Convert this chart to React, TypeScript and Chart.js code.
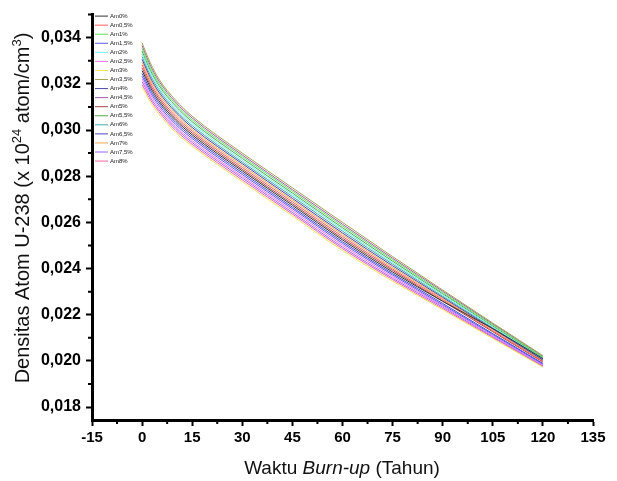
import React, { useEffect, useRef } from 'react';
import { Chart, registerables } from 'chart.js';

Chart.register(...registerables);

const TIMES = [0, 1, 2.5, 5, 10, 15, 30, 45, 60, 75, 90, 105, 120];

const LABELS = ['Am0%', 'Am0,5%', 'Am1%', 'Am1,5%', 'Am2%', 'Am2,5%', 'Am3%', 'Am3,5%', 'Am4%', 'Am4,5%', 'Am5%', 'Am5,5%', 'Am6%', 'Am6,5%', 'Am7%', 'Am7,5%', 'Am8%'];

const COLORS = ['#333333', '#ff5a5a', '#5ee05e', '#5a5aff', '#70eeee', '#f070f0', '#f2e25a', '#a3a356', '#4848a8', '#a858a8', '#a84848', '#50a850', '#48a8a8', '#4848c8', '#f5a550', '#a464f5', '#f564a8'];

const AM0 = [0.03257, 0.03228, 0.03184, 0.03127, 0.03043, 0.02979, 0.02823, 0.02674, 0.02524, 0.02385, 0.02258, 0.02140, 0.02010];
const AM0_5 = [0.03282, 0.03250, 0.03205, 0.03146, 0.03060, 0.02995, 0.02838, 0.02689, 0.02539, 0.02398, 0.02265, 0.02130, 0.01998];
const AM1 = [0.03354, 0.03318, 0.03269, 0.03203, 0.03113, 0.03044, 0.02885, 0.02735, 0.02585, 0.02439, 0.02296, 0.02156, 0.02017];
const AM1_5 = [0.03233, 0.03205, 0.03163, 0.03108, 0.03025, 0.02963, 0.02807, 0.02659, 0.02509, 0.02372, 0.02243, 0.02114, 0.01986];
const AM2 = [0.03330, 0.03295, 0.03248, 0.03184, 0.03095, 0.03028, 0.02869, 0.02720, 0.02570, 0.02425, 0.02286, 0.02147, 0.02011];
const AM2_5 = [0.03221, 0.03194, 0.03152, 0.03099, 0.03016, 0.02954, 0.02799, 0.02651, 0.02501, 0.02365, 0.02238, 0.02109, 0.01982];
const AM3 = [0.03185, 0.03160, 0.03120, 0.03070, 0.02990, 0.02930, 0.02776, 0.02628, 0.02478, 0.02345, 0.02222, 0.02097, 0.01973];
const AM3_5 = [0.03378, 0.03340, 0.03290, 0.03222, 0.03130, 0.03060, 0.02900, 0.02750, 0.02600, 0.02452, 0.02307, 0.02164, 0.02023];
const AM4 = [0.03306, 0.03273, 0.03226, 0.03165, 0.03078, 0.03011, 0.02854, 0.02704, 0.02554, 0.02412, 0.02275, 0.02139, 0.02004];
const AM4_5 = [0.03366, 0.03329, 0.03279, 0.03213, 0.03121, 0.03052, 0.02892, 0.02742, 0.02592, 0.02445, 0.02302, 0.02160, 0.02020];
const AM5 = [0.03269, 0.03239, 0.03194, 0.03137, 0.03051, 0.02987, 0.02830, 0.02681, 0.02531, 0.02392, 0.02259, 0.02126, 0.01995];
const AM5_5 = [0.03342, 0.03306, 0.03258, 0.03194, 0.03104, 0.03036, 0.02877, 0.02727, 0.02577, 0.02432, 0.02291, 0.02151, 0.02014];
const AM6 = [0.03318, 0.03284, 0.03237, 0.03175, 0.03086, 0.03019, 0.02861, 0.02712, 0.02562, 0.02419, 0.02280, 0.02143, 0.02007];
const AM6_5 = [0.03245, 0.03216, 0.03173, 0.03118, 0.03034, 0.02971, 0.02815, 0.02666, 0.02516, 0.02378, 0.02249, 0.02118, 0.01989];
const AM7 = [0.03294, 0.03261, 0.03216, 0.03156, 0.03069, 0.03003, 0.02846, 0.02697, 0.02547, 0.02405, 0.02270, 0.02135, 0.02001];
const AM7_5 = [0.03209, 0.03183, 0.03141, 0.03089, 0.03008, 0.02946, 0.02792, 0.02643, 0.02493, 0.02358, 0.02233, 0.02105, 0.01979];
const AM8 = [0.03197, 0.03171, 0.03131, 0.03080, 0.02999, 0.02938, 0.02784, 0.02636, 0.02486, 0.02352, 0.02227, 0.02101, 0.01976];

const SERIES = [AM0, AM0_5, AM1, AM1_5, AM2, AM2_5, AM3, AM3_5, AM4, AM4_5, AM5, AM5_5, AM6, AM6_5, AM7, AM7_5, AM8];

const X_TICKS = [-15, 0, 15, 30, 45, 60, 75, 90, 105, 120, 135];
const X_MINOR = [-7.5, 7.5, 22.5, 37.5, 52.5, 67.5, 82.5, 97.5, 112.5, 127.5];
const Y_TICKS = [0.018, 0.02, 0.022, 0.024, 0.026, 0.028, 0.03, 0.032, 0.034];
const Y_MINOR = [0.019, 0.021, 0.023, 0.025, 0.027, 0.029, 0.031, 0.033, 0.035];

const FONT = '"Liberation Sans", Arial, sans-serif';

function drawRuns(ctx: any, runs: [string, string, number][], cx: number, cy: number) {
  let total = 0;
  runs.forEach(([t, f]) => {
    ctx.font = f;
    total += ctx.measureText(t).width;
  });
  let x = cx - total / 2;
  ctx.textAlign = 'left';
  ctx.textBaseline = 'alphabetic';
  runs.forEach(([t, f, dy]) => {
    ctx.font = f;
    ctx.fillText(t, x, cy + dy);
    x += ctx.measureText(t).width;
  });
}

const extrasPlugin = {
  id: 'extras',
  afterDraw(chart: any) {
    const ctx = chart.ctx;
    const xs = chart.scales.x;
    const ys = chart.scales.y;
    const area = chart.chartArea;
    ctx.save();
    // minor ticks
    ctx.strokeStyle = '#000';
    ctx.lineWidth = 2;
    ctx.beginPath();
    X_MINOR.forEach((v) => {
      const px = xs.getPixelForValue(v);
      ctx.moveTo(px, area.bottom);
      ctx.lineTo(px, area.bottom + 4);
    });
    Y_MINOR.forEach((v) => {
      const py = ys.getPixelForValue(v);
      ctx.moveTo(area.left, py);
      ctx.lineTo(area.left - 4, py);
    });
    ctx.stroke();

    // legend
    const ds = chart.data.datasets;
    ctx.font = '6px ' + FONT;
    ctx.textBaseline = 'middle';
    ctx.textAlign = 'left';
    ds.forEach((d: any, i: number) => {
      const y = area.top + 1.5 + i * 9.06;
      ctx.strokeStyle = d.borderColor;
      ctx.lineWidth = 1;
      ctx.beginPath();
      ctx.moveTo(area.left + 3, y);
      ctx.lineTo(area.left + 16, y);
      ctx.stroke();
      ctx.fillStyle = '#222';
      ctx.fillText(d.label, area.left + 18, y);
    });

    // y title with superscripts
    ctx.fillStyle = '#111';
    ctx.save();
    ctx.translate(29, 208);
    ctx.rotate(-Math.PI / 2);
    const f = '20px ' + FONT;
    const s = '13px ' + FONT;
    drawRuns(
      ctx,
      [
        ['Densitas Atom U-238 (x 10', f, 0],
        ['24', s, -8],
        [' atom/cm', f, 0],
        ['3', s, -8],
        [')', f, 0],
      ],
      0,
      0
    );
    ctx.restore();

    // x title with italic part
    const xf = '19px ' + FONT;
    drawRuns(
      ctx,
      [
        ['Waktu ', xf, 0],
        ['Burn-up', 'italic ' + xf, 0],
        [' (Tahun)', xf, 0],
      ],
      342,
      474
    );
    ctx.restore();
  },
};

export default function App() {
  const ref = useRef<HTMLCanvasElement | null>(null);
  useEffect(() => {
    if (!ref.current) return;
    const chart = new Chart(ref.current, {
      type: 'line',
      data: {
        datasets: SERIES.map((s, i) => ({
          label: LABELS[i],
          data: s.map((v, j) => ({ x: TIMES[j], y: v })),
          borderColor: COLORS[i],
          backgroundColor: COLORS[i],
          borderWidth: 1,
          pointRadius: 0,
          cubicInterpolationMode: 'monotone' as const,
          fill: false,
        })),
      },
      options: {
        animation: false,
        responsive: false,
        maintainAspectRatio: false,
        layout: { padding: { top: 12, right: 24, left: 0, bottom: 0 } },
        plugins: { legend: { display: false }, tooltip: { enabled: false } },
        scales: {
          x: {
            type: 'linear',
            min: -15,
            max: 135,
            afterBuildTicks: (scale: any) => {
              scale.ticks = X_TICKS.map((v) => ({ value: v }));
            },
            afterFit: (scale: any) => {
              scale.height = 61;
            },
            grid: { drawOnChartArea: false, drawTicks: true, tickLength: 6, tickWidth: 2, tickColor: '#000' },
            border: { display: true, width: 3, color: '#000' },
            ticks: {
              autoSkip: false,
              maxRotation: 0,
              padding: 3,
              color: '#000',
              font: { family: FONT, size: 15, weight: 'bold' },
              callback: (v: any) => String(v),
            },
          },
          y: {
            type: 'linear',
            min: 0.01744,
            max: 0.035,
            afterBuildTicks: (scale: any) => {
              scale.ticks = Y_TICKS.map((v) => ({ value: v }));
            },
            afterFit: (scale: any) => {
              scale.width = 92;
            },
            grid: { drawOnChartArea: false, drawTicks: true, tickLength: 6, tickWidth: 2, tickColor: '#000' },
            border: { display: true, width: 3, color: '#000' },
            ticks: {
              autoSkip: false,
              padding: 5,
              color: '#000',
              font: { family: FONT, size: 16, weight: 'bold' },
              callback: (v: any) => Number(v).toFixed(3).replace('.', ','),
            },
          },
        },
      },
      plugins: [extrasPlugin],
    } as any);
    return () => chart.destroy();
  }, []);
  return (
    <div style={{ position: 'fixed', left: 0, top: 0, width: 617, height: 481, background: '#fff' }}>
      <canvas ref={ref} width={617} height={481} style={{ width: 617, height: 481, display: 'block' }} />
    </div>
  );
}
